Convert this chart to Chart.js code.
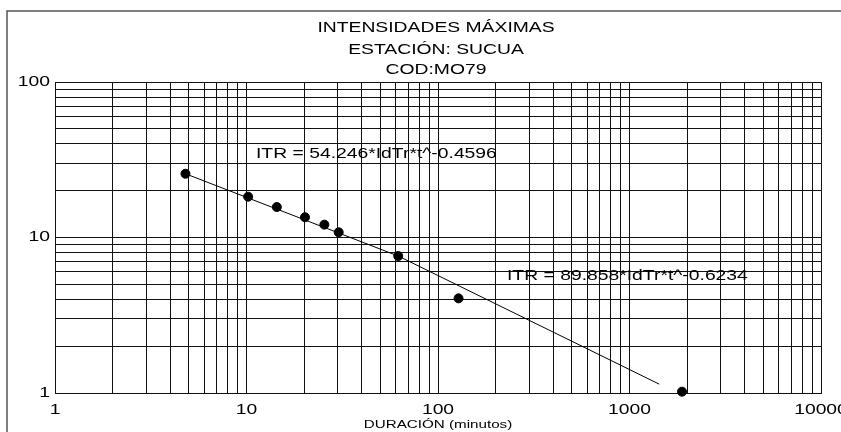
<!DOCTYPE html>
<html>
<head>
<meta charset="utf-8">
<script src="https://cdn.jsdelivr.net/npm/chart.js@4"></script>
<style>
  body { margin: 0; background: #fff; }
  canvas { display: block; }
</style>
</head>
<body>
<canvas id="idfChart" width="841" height="432"></canvas>
<script>
// Intensidades maximas, estacion Sucua (M079)
// duration in minutes, intensity
const durations = [4.8, 10.2, 14.4, 20.2, 25.5, 30.3, 62, 128, 1880];
const intensities = [25.7, 18.3, 15.7, 13.5, 12.1, 10.8, 7.6, 4.06, 1.02];

// fitted lines, end points as drawn on the plot
const fit1T = [4.8, 62];
const fit1I = [25.7, 7.6];
const fit2T = [62, 1430];
const fit2I = [7.6, 1.14];

const xTickLabels = [1, 10, 100, 1000, 10000];
const yTickLabels = [1, 10, 100];
const subSteps = [1, 2, 3, 4, 5, 6, 7, 8, 9];

const titleLines = ['INTENSIDADES MÁXIMAS', 'ESTACIÓN: SUCUA', 'COD:MO79'];
const eq1 = 'ITR = 54.246*IdTr*t^-0.4596';
const eq2 = 'ITR = 89.858*IdTr*t^-0.6234';
const xTitle = 'DURACIÓN (minutos)';

// log grid: 1..9 in every decade
function logGrid(decades) {
    const vals = [];
    for (let i = 0; i < decades.length - 1; i++) {
        subSteps.forEach(s => vals.push(s * decades[i]));
    }
    vals.push(decades[decades.length - 1]);
    return vals;
}

function toPoints(xs, ys) {
    return xs.map((x, i) => ({ x: x, y: ys[i] }));
}

// the original image is stretched sideways, so text is too
const SX = 1.38;
function stretchText(ctx, text, x, y, size, align) {
    ctx.save();
    ctx.font = size + 'px "Liberation Sans", Arial, sans-serif';
    ctx.fillStyle = '#000';
    ctx.textBaseline = 'middle';
    ctx.textAlign = 'left';
    const w = ctx.measureText(text).width * SX;
    let left = x;
    if (align === 'center') left = x - w / 2;
    if (align === 'right') left = x - w;
    ctx.translate(left, y);
    ctx.scale(SX, 1);
    ctx.fillText(text, 0, 0);
    ctx.restore();
}

const textPlugin = {
    id: 'textPlugin',
    afterDraw(chart) {
        const ctx = chart.ctx;
        const xs = chart.scales.x, ys = chart.scales.y;
        const area = chart.chartArea;
        const mid = (area.left + area.right) / 2;

        // frame round the whole graphic
        ctx.save();
        ctx.strokeStyle = '#555';
        ctx.lineWidth = 1.5;
        ctx.strokeRect(7, 11, 900, 500);
        ctx.restore();

        stretchText(ctx, titleLines[0], mid - 2, 28, 14, 'center');
        stretchText(ctx, titleLines[1], mid - 2, 50, 14, 'center');
        stretchText(ctx, titleLines[2], mid - 2, 70, 14, 'center');

        stretchText(ctx, eq1, 256, 154, 14, 'left');
        stretchText(ctx, eq2, 507, 276, 14, 'left');

        yTickLabels.forEach(v => {
            stretchText(ctx, String(v), area.left - 5, ys.getPixelForValue(v), 14, 'right');
        });
        xTickLabels.forEach(v => {
            stretchText(ctx, String(v), xs.getPixelForValue(v), 410, 14, 'center');
        });
        stretchText(ctx, xTitle, mid, 425, 11, 'center');
    }
};

const gridStyle = { color: '#111', lineWidth: 1, drawTicks: false };

new Chart(document.getElementById('idfChart'), {
    type: 'scatter',
    data: {
        datasets: [{
            label: 'Intensidad',
            data: toPoints(durations, intensities),
            backgroundColor: '#000',
            borderColor: '#000',
            pointRadius: 4.5,
            clip: false
        }, {
            label: 'Ajuste 1',
            data: toPoints(fit1T, fit1I),
            showLine: true,
            borderColor: '#000',
            borderWidth: 1,
            pointRadius: 0
        }, {
            label: 'Ajuste 2',
            data: toPoints(fit2T, fit2I),
            showLine: true,
            borderColor: '#000',
            borderWidth: 1,
            pointRadius: 0
        }]
    },
    options: {
        responsive: false,
        animation: false,
        layout: { padding: { left: 0, right: 20, top: 82, bottom: 0 } },
        plugins: {
            legend: { display: false },
            tooltip: { enabled: false },
            title: { display: false }
        },
        scales: {
            x: {
                type: 'logarithmic',
                min: 1,
                max: 10000,
                grid: gridStyle,
                border: { color: '#111' },
                ticks: { display: false },
                afterBuildTicks: s => { s.ticks = logGrid(xTickLabels).map(v => ({ value: v })); },
                afterFit: s => { s.height = 39; }
            },
            y: {
                type: 'logarithmic',
                min: 1,
                max: 100,
                grid: gridStyle,
                border: { color: '#111' },
                ticks: { display: false },
                afterBuildTicks: s => { s.ticks = logGrid(yTickLabels).map(v => ({ value: v })); },
                afterFit: s => { s.width = 55; }
            }
        }
    },
    plugins: [textPlugin]
});
</script>
</body>
</html>
